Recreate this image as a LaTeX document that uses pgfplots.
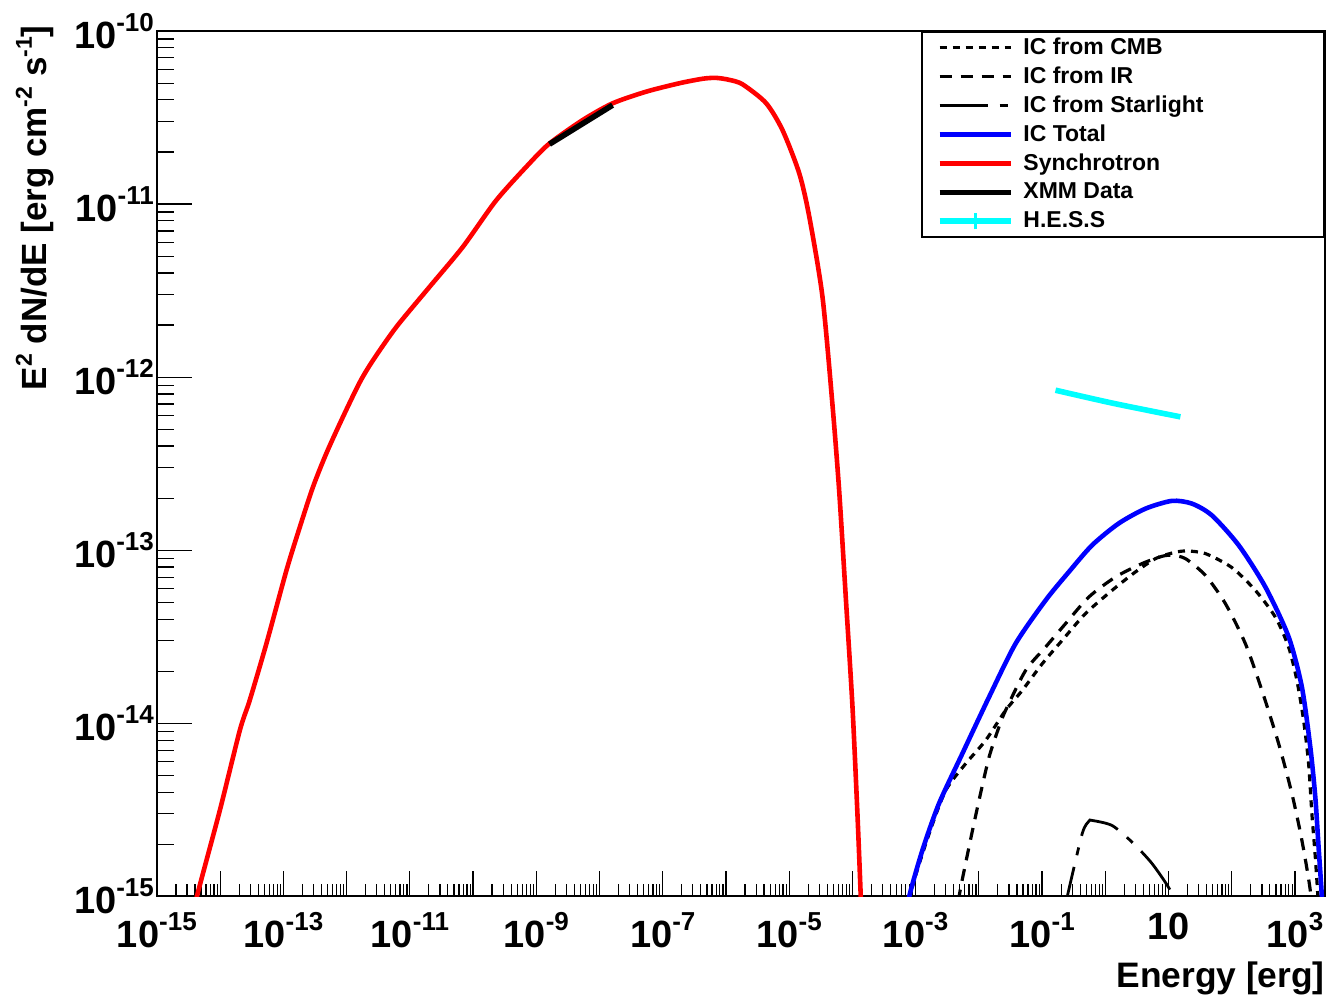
\documentclass[border=0pt]{standalone}
\usepackage{pgfplots}
\pgfplotsset{compat=1.18}
\usepackage{fontspec}
\setmainfont{Liberation Sans}
\definecolor{hesscyan}{RGB}{0,255,255}
\definecolor{rootred}{RGB}{255,0,0}
\definecolor{rootblue}{RGB}{0,0,255}
% ROOT-like exponents
\newcommand\ex[1]{\raisebox{8.4bp}{\fontsize{13bp}{13bp}\selectfont\bfseries #1}}
\newcommand\exl[1]{\raisebox{7.5bp}{\fontsize{11.5bp}{11.5bp}\selectfont\bfseries #1}}
\newcommand\lab[1]{\makebox[143bp][l]{#1}}
\pgfplotsset{
  linelegend/.style={legend image code/.code={\draw[##1] (0bp,0bp) -- (35.5bp,0bp);}},
  hesslegend/.style={legend image code/.code={\draw[##1] (0bp,0bp) -- (35.5bp,0bp);
    \draw[hesscyan, line width=1.5bp] (17.75bp,-4bp) -- (17.75bp,4bp);}},
}
\begin{document}
\begin{tikzpicture}
\begin{axis}[
  scale only axis,
  width=584.5bp, height=433bp,
  xmode=log, ymode=log,
  xmin=1e-15, xmax=3000,
  ymin=1e-15, ymax=1e-10,
  axis line style={line width=1bp},
  tick style={black, line width=0.6bp},
  tick align=inside,
  xtick pos=bottom, ytick pos=left,
  major tick length=17.5bp, minor tick length=8.7bp,
  xtick style={/pgfplots/major tick length=13bp, /pgfplots/minor tick length=6.5bp},
  xtick={1e-15,1e-14,1e-13,1e-12,1e-11,1e-10,1e-9,1e-8,1e-7,1e-6,1e-5,1e-4,1e-3,1e-2,1e-1,1,10,100,1000},
  xticklabels={10\ex{-15},{},10\ex{-13},{},10\ex{-11},{},10\ex{-9},{},10\ex{-7},{},10\ex{-5},{},10\ex{-3},{},10\ex{-1},{},10,{},10\ex{3}},
  ytick={1e-15,1e-14,1e-13,1e-12,1e-11,1e-10},
  yticklabels={10\ex{-15},10\ex{-14},10\ex{-13},10\ex{-12},10\ex{-11},10\ex{-10}},
  tick label style={font=\fontsize{19bp}{21bp}\selectfont\bfseries},
  xticklabel style={yshift=-4.5bp},
  yticklabel style={xshift=2bp},
  legend style={at={(1,1)}, anchor=north east, draw=black, line width=0.9bp,
    inner xsep=7.5bp, inner ysep=0.5bp, row sep=0pt, column sep=5bp,
    font=\fontsize{11.5bp}{14bp}\selectfont\bfseries,
    nodes={inner sep=0pt, minimum height=14.5bp}},
  legend cell align=left,
  linelegend,
  every axis plot/.append style={smooth, tension=0.45},
]
% IC from CMB
\addplot[black, line width=1.6bp, dash pattern=on 3.5bp off 3bp] coordinates {
(8.32e-4,7.94e-16) (8.87e-4,1.13e-15) (1.63e-3,2.30e-15) (2.99e-3,4.10e-15)
(6.18e-3,5.85e-15) (1.28e-2,7.98e-15) (2.65e-2,1.19e-14) (4.85e-2,1.55e-14)
(0.1005,2.21e-14) (0.208,3.02e-14) (0.486,4.31e-14) (1.28,5.87e-14)
(3.00,7.50e-14) (6.21,8.95e-14) (11.35,9.64e-14) (18.5,9.91e-14)
(38.3,9.57e-14) (100.7,7.94e-14) (236,5.87e-14) (489,4.11e-14)
(792.5,2.76e-14) (1072,1.77e-14) (1368,1.04e-14) (1641,5.85e-15)
(1849,3.01e-15) (2094,1.69e-15) (2301,9.91e-16) (2399,6.3e-16)
};
\addlegendentry{\lab{IC from CMB}}
% IC from IR
\addplot[black, line width=1.6bp, dash pattern=on 6bp off 4.5bp] coordinates {
(4.57e-3,7.08e-16) (4.85e-3,9.91e-16) (6.98e-3,1.93e-15) (1.005e-2,3.59e-15)
(1.45e-2,6.38e-15) (2.08e-2,9.53e-15) (2.65e-2,1.19e-14) (5.48e-2,2.02e-14)
(0.1135,2.76e-14) (0.235,3.77e-14) (0.548,5.37e-14) (1.45,7.01e-14)
(3.81,8.38e-14) (7.89,9.23e-14) (11.35,9.35e-14) (18.5,8.95e-14)
(38.3,7.16e-14) (79.3,4.92e-14) (164,2.89e-14) (300,1.55e-14)
(551,7.64e-15) (893,3.93e-15) (1285,2.11e-15) (1746,1.08e-15) (1820,7.08e-16)
};
\addlegendentry{\lab{IC from IR}}
% IC from Starlight
\addplot[black, line width=1.4bp, dash pattern=on 24bp off 6bp on 4bp off 6bp] coordinates {
(0.224,7.94e-16) (0.249,9.91e-16) (0.430,2.30e-15) (0.55,2.72e-15)
(0.618,2.75e-15) (1.28,2.57e-15) (2.65,2.06e-15) (5.48,1.55e-15)
(10.7,1.08e-15) (11.5,8.9e-16)
};
\addlegendentry{\lab{IC from Starlight}}
% IC Total
\addplot[rootblue, line width=2.3bp] coordinates {
(7.08e-4,7.08e-16) (7.87e-4,9.91e-16) (1.28e-3,1.85e-15) (2.34e-3,3.44e-15)
(5.47e-3,6.68e-15) (1.45e-2,1.42e-14) (3.81e-2,2.89e-14) (0.1135,5.14e-14)
(0.265,7.50e-14) (0.618,1.07e-13) (1.63,1.43e-13) (4.32,1.74e-13)
(11.35,1.93e-13) (23.5,1.86e-13) (48.6,1.59e-13) (128.5,1.07e-13)
(339.6,6.14e-14) (792.5,3.16e-14) (1285,1.62e-14) (1746,7.29e-15)
(2094,3.75e-15) (2360,1.93e-15) (2661,9.91e-16) (2754,6.3e-16)
};
\addlegendentry{\lab{IC Total}}
% Synchrotron
\addplot[rootred, line width=2.3bp] coordinates {
(3.98e-15,7.94e-16) (4.24e-15,9.82e-16) (9.89e-15,3.14e-15) (2.05e-14,9.12e-15)
(2.94e-14,1.36e-14) (5.41e-14,2.90e-14) (1.12e-13,7.66e-14) (1.82e-13,1.36e-13)
(2.94e-13,2.32e-13) (4.80e-13,3.64e-13) (8.77e-13,5.90e-13) (1.61e-12,9.32e-13)
(2.61e-12,1.25e-12) (6.12e-12,1.95e-12) (2.06e-11,3.33e-12) (6.90e-11,5.66e-12)
(2.32e-10,1.05e-11) (7.82e-10,1.72e-11) (1.62e-9,2.24e-11) (5.43e-9,3.06e-11)
(1.61e-8,3.82e-11) (5.45e-8,4.46e-11) (1.83e-7,4.99e-11) (4.3e-7,5.30e-11)
(7.0e-7,5.36e-11) (1.13e-6,5.22e-11) (1.83e-6,4.92e-11) (4.29e-6,3.84e-11) (7.83e-6,2.68e-11)
(1.44e-5,1.51e-11) (2.07e-5,8.53e-12) (3.36e-5,2.92e-12) (4.83e-5,6.98e-13)
(6.17e-5,2.22e-13) (7.87e-5,5.31e-14) (1.00e-4,1.27e-14) (1.20e-4,3.03e-15)
(1.36e-4,9.66e-16) (1.41e-4,6.3e-16)
};
\addlegendentry{\lab{Synchrotron}}
% XMM data
\addplot[black, line width=2.8bp] coordinates {
(1.62e-9,2.22e-11) (1.61e-8,3.73e-11)
};
\addlegendentry{\lab{XMM Data}}
% H.E.S.S
\addplot[hesscyan, line width=2.8bp, hesslegend] coordinates {
(0.163,8.41e-13) (1.35,7.06e-13) (15.4,5.90e-13)
};
\addlegendentry{\lab{H.E.S.S}}
\end{axis}
\node[rotate=90, anchor=base east, inner sep=0pt, font=\fontsize{17.5bp}{20bp}\selectfont\bfseries]
  at ([xshift=-55bp,yshift=3bp]current axis.north west)
  {E\exl{2} dN/dE [erg cm\exl{-2} s\exl{-1}]};
\node[anchor=base east, inner sep=0pt, font=\fontsize{17.7bp}{20bp}\selectfont\bfseries]
  at ([yshift=-45.5bp]current axis.south east) {Energy [erg]};
\path (current axis.south west) ++(-78.5bp,-52.5bp) rectangle ++(665bp,501bp);
\end{tikzpicture}
\end{document}
